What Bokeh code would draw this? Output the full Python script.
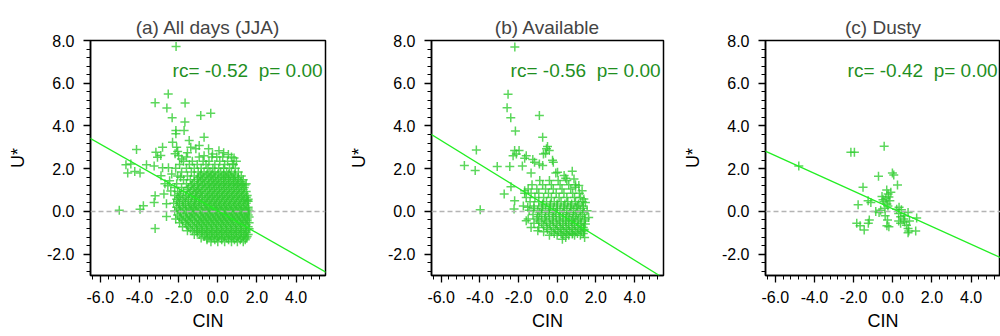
from bokeh.plotting import figure
from bokeh.models import Range1d, FixedTicker, PrintfTickFormatter, Span, Slope, Label
from bokeh.layouts import row
from bokeh.embed import file_html
from bokeh.resources import INLINE
import numpy as np

FONT = "Liberation Sans"

# ---------------- data ----------------
titles = ["(a) All days (JJA)", "(b) Available", "(c) Dusty"]
rc_vals = [-0.52, -0.56, -0.42]
p_vals = [0.00, 0.00, 0.00]
slopes = [-0.52, -0.56, -0.415]
intercepts = [0.03, -0.04, 0.12]

x_ticks = [-6, -4, -2, 0, 2, 4]
y_ticks = [-2, 0, 2, 4, 6, 8]

# panel (a): scattered outliers
a_out_x = [-2.13, -3.2, -2.53, -2.6, -1.67, -2.33, -0.87, -0.36, -1.68, -2.14, -2.14, -1.72,
           -0.7, -1.46, -2.31, -2.82, -2.91, -3.08, -3.16, -4.15, -2.1, -2.05, -2.18, -2.0,
           -1.38, -1.12, -0.95, -0.47, -0.27, -0.7, -4.69, -4.44, -4.6, -4.24, -3.97, -3.64,
           -3.25, -2.82, -2.52, -2.9, -5.03, -3.97, -3.8, -3.25, -3.2, -2.75, -2.62, -3.2,
           -2.62, -2.55, -2.46, 0.06, 0.54, 0.83, 0.75, -1.85, -2.35, -1.55, 0.3, -0.05,
           1.39, 1.5, -2.7, -2.4, -1.9]
a_out_y = [7.72, 5.09, 5.5, 4.84, 5.07, 4.38, 4.49, 4.6, 4.18, 3.79, 3.63, 3.79,
           3.47, 3.32, 3.24, 3.0, 2.62, 2.54, 2.77, 2.9, 3.0, 2.8, 2.7, 2.6,
           3.0, 2.93, 3.08, 2.93, 2.69, 2.61, 2.18, 2.22, 1.8, 1.87, 1.8, 2.18,
           2.12, 2.04, 2.04, 1.67, 0.06, 0.1, 0.26, 0.42, 0.73, 0.82, 0.36, -0.8,
           -0.24, 1.2, 1.44, 2.84, 2.66, 2.5, 2.22, 2.45, 1.75, 2.75, 2.75, 2.55,
           1.24, 0.5, 1.3, 0.95, 1.6]

# panel (a): dense cloud, one list of CIN values per U* row
a_row_y = [2.55, 2.35, 2.2, 2.02, 1.85, 1.66, 1.48, 1.3, 1.12, 0.93, 0.75, 0.57, 0.38,
           0.2, 0.02, -0.17, -0.35, -0.53, -0.72, -0.9, -1.08, -1.25, -1.42,
           1.75, 1.57, 1.39, 1.21, 1.03, 0.84, 0.66, 0.47, 0.29, 0.11, -0.08, -0.26,
           -0.44, -0.62, -0.81, -0.99, -1.17, -1.33]
a_row_x = [
    [-1.6, -0.95, -0.3, 0.25, 0.7],
    [-1.75, -1.3, -0.75, -0.45, 0.1, 0.5, 0.95],
    [-1.95, -1.45, -1.05, -0.6, -0.15, 0.35, 0.8],
    [-2.15, -1.6, -1.2, -0.85, -0.5, -0.25, 0.05, 0.3, 0.6, 0.9],
    [-1.85, -1.35, -1.0, -0.7, -0.4, -0.15, 0.15, 0.45, 0.7, 1.05],
    [-2.05, -1.55, -1.2, -0.9, -0.6, -0.35, -0.1, 0.2, 0.4, 0.65, 0.9, 1.2],
    [-1.75, -1.4, -1.05, -0.8, -0.5, -0.25, 0.0, 0.3, 0.55, 0.8, 1.05, 1.3],
    [-2.1, -1.6, -1.3, -1.0, -0.7, -0.45, -0.2, 0.05, 0.3, 0.55, 0.8, 1.0, 1.25, 1.45],
    [-2.2, -1.85, -1.5, -1.2, -0.95, -0.65, -0.4, -0.15, 0.1, 0.35, 0.6, 0.85, 1.1, 1.35],
    [-2.05, -1.75, -1.4, -1.1, -0.85, -0.55, -0.3, -0.05, 0.2, 0.45, 0.7, 0.95, 1.2, 1.45],
    [-2.2, -1.9, -1.6, -1.3, -1.05, -0.8, -0.5, -0.25, 0.0, 0.25, 0.5, 0.75, 1.0, 1.25, 1.5],
    [-2.1, -1.8, -1.5, -1.2, -0.95, -0.65, -0.4, -0.15, 0.1, 0.35, 0.6, 0.85, 1.1, 1.35, 1.55],
    [-2.25, -1.95, -1.65, -1.35, -1.1, -0.85, -0.55, -0.3, -0.05, 0.2, 0.45, 0.7, 0.95, 1.2, 1.45],
    [-2.1, -1.8, -1.5, -1.25, -1.0, -0.7, -0.45, -0.2, 0.05, 0.3, 0.55, 0.8, 1.05, 1.3, 1.55],
    [-2.2, -1.9, -1.6, -1.35, -1.1, -0.8, -0.55, -0.3, -0.05, 0.2, 0.45, 0.7, 0.95, 1.2, 1.45, 1.6],
    [-2.05, -1.75, -1.45, -1.2, -0.9, -0.65, -0.4, -0.15, 0.1, 0.35, 0.6, 0.85, 1.1, 1.35, 1.55],
    [-2.15, -1.85, -1.55, -1.3, -1.0, -0.75, -0.5, -0.25, 0.0, 0.25, 0.5, 0.75, 1.0, 1.25, 1.5],
    [-1.95, -1.65, -1.4, -1.1, -0.85, -0.6, -0.35, -0.1, 0.15, 0.4, 0.65, 0.9, 1.15, 1.4, 1.6],
    [-1.8, -1.5, -1.2, -0.95, -0.7, -0.45, -0.2, 0.05, 0.3, 0.55, 0.8, 1.05, 1.3, 1.55],
    [-1.55, -1.3, -1.05, -0.8, -0.55, -0.3, -0.05, 0.2, 0.45, 0.7, 0.95, 1.2, 1.45],
    [-1.2, -0.95, -0.65, -0.4, -0.15, 0.1, 0.35, 0.6, 0.85, 1.1, 1.35, 1.55],
    [-0.85, -0.55, -0.3, -0.05, 0.2, 0.45, 0.7, 0.95, 1.2, 1.45],
    [-0.35, 0.0, 0.35, 0.7, 1.0, 1.3],
    [-0.85, -0.55, -0.3, 0.0, 0.3, 0.55, 0.85],
    [-1.0, -0.75, -0.45, -0.2, 0.05, 0.3, 0.55, 0.8, 1.05],
    [-1.2, -0.9, -0.65, -0.35, -0.1, 0.15, 0.4, 0.65, 0.9, 1.15],
    [-1.35, -1.05, -0.8, -0.55, -0.3, -0.05, 0.2, 0.45, 0.7, 0.95, 1.2],
    [-1.55, -1.25, -1.0, -0.75, -0.45, -0.2, 0.05, 0.3, 0.55, 0.8, 1.05, 1.3],
    [-1.95, -1.45, -1.15, -0.9, -0.65, -0.4, -0.15, 0.1, 0.35, 0.6, 0.85, 1.1, 1.35],
    [-2.0, -1.65, -1.35, -1.1, -0.8, -0.55, -0.3, -0.05, 0.2, 0.45, 0.7, 0.95, 1.2, 1.45],
    [-2.05, -1.75, -1.5, -1.2, -0.95, -0.7, -0.45, -0.2, 0.05, 0.3, 0.55, 0.8, 1.05, 1.3, 1.55],
    [-1.95, -1.65, -1.4, -1.15, -0.85, -0.6, -0.35, -0.1, 0.15, 0.4, 0.65, 0.9, 1.15, 1.4],
    [-2.0, -1.75, -1.45, -1.2, -0.95, -0.65, -0.4, -0.15, 0.1, 0.35, 0.6, 0.85, 1.1, 1.35, 1.55],
    [-1.9, -1.6, -1.3, -1.05, -0.75, -0.5, -0.25, 0.0, 0.25, 0.5, 0.75, 1.0, 1.25, 1.5],
    [-1.95, -1.65, -1.4, -1.15, -0.85, -0.6, -0.35, -0.1, 0.15, 0.4, 0.65, 0.9, 1.15, 1.4, 1.6],
    [-1.8, -1.5, -1.2, -0.95, -0.7, -0.45, -0.2, 0.05, 0.3, 0.55, 0.8, 1.05, 1.3, 1.5],
    [-1.6, -1.3, -1.05, -0.8, -0.55, -0.3, -0.05, 0.2, 0.45, 0.7, 0.95, 1.2, 1.45],
    [-1.4, -1.1, -0.85, -0.6, -0.35, -0.1, 0.15, 0.4, 0.65, 0.9, 1.15, 1.4, 1.6],
    [-1.05, -0.8, -0.55, -0.3, -0.05, 0.2, 0.45, 0.7, 0.95, 1.2, 1.45],
    [-0.7, -0.45, -0.2, 0.05, 0.3, 0.55, 0.8, 1.05, 1.3, 1.5],
    [-0.55, -0.15, 0.2, 0.55, 0.85, 1.15, 1.4],
]

# panel (b): scattered points
b_out_x = [-2.19, -2.54, -2.59, -2.4, -0.92, -2.16, -0.75, -0.5, -0.55, -0.41, -4.18, -2.2,
           -1.97, -2.28, -2.11, -0.71, -1.68, -1.26, -0.92, -0.75, -4.8, -4.24, -3.1, -2.45,
           -1.8, -0.6, -1.17, -1.35, -0.24, -0.2, -2.39, -2.74, -2.2, -2.23, -3.98, -1.68,
           -1.6, -0.07, 0.02, 0.78, 0.36, 0.44, 0.87, 1.12, 0.95, 1.29, 1.38, 1.46,
           1.55, 1.63, 1.46, 1.38, 0.78, 0.44, 0.27, -1.0, -1.35, -1.68, -1.52, -1.6, 1.42]
b_out_y = [7.7, 5.48, 4.85, 4.38, 4.49, 3.76, 3.47, 3.04, 2.93, 2.85, 2.88, 2.85,
           2.85, 2.61, 2.69, 2.69, 2.49, 2.43, 2.22, 2.15, 2.15, 1.91, 2.1, 2.1,
           2.12, 2.72, 2.3, 1.8, 2.39, 2.3, 1.16, 0.82, 0.5, 0.11, 0.08, 0.85,
           2.6, 1.8, 1.83, 1.88, 1.68, 1.55, 1.52, 1.21, 1.13, 0.97, 0.58, 0.42,
           0.03, -0.28, -0.59, -0.91, -1.06, -1.22, -1.3, -0.9, -0.75, 0.97, 0.19, -0.44, -1.22]

b_row_y = [1.45, 1.25, 1.05, 0.85, 0.65, 0.45, 0.25, 0.05, -0.15, -0.35, -0.55, -0.75,
           -0.95, -1.12, 0.35, 0.15, -0.05, -0.25, -0.45, -0.65, -0.85, -1.03]
b_row_x = [
    [-0.9, -0.4, 0.05, 0.5],
    [-1.3, -0.75, -0.3, 0.15, 0.6, 0.95],
    [-1.5, -1.05, -0.6, -0.2, 0.25, 0.7],
    [-1.35, -0.95, -0.45, -0.05, 0.35, 0.8, 1.15],
    [-1.6, -1.15, -0.7, -0.3, 0.1, 0.5, 0.9, 1.2],
    [-1.4, -0.95, -0.55, -0.15, 0.2, 0.55, 0.95, 1.3],
    [-1.75, -1.2, -0.75, -0.35, 0.0, 0.35, 0.7, 1.05, 1.35],
    [-1.45, -1.0, -0.6, -0.2, 0.15, 0.5, 0.85, 1.2],
    [-1.25, -0.8, -0.4, -0.05, 0.3, 0.6, 0.95, 1.3],
    [-1.5, -1.05, -0.65, -0.25, 0.1, 0.45, 0.8, 1.1, 1.45],
    [-1.2, -0.8, -0.4, -0.05, 0.3, 0.6, 0.9, 1.25],
    [-0.95, -0.55, -0.2, 0.15, 0.45, 0.75, 1.05, 1.35],
    [-0.7, -0.3, 0.05, 0.35, 0.65, 0.95, 1.25],
    [-0.4, 0.0, 0.3, 0.6, 0.9, 1.2],
    [-0.75, -0.35, 0.0, 0.4, 0.75, 1.1],
    [-1.2, -0.8, -0.4, 0.0, 0.35, 0.7, 1.0, 1.35],
    [-0.9, -0.45, -0.1, 0.3, 0.65, 1.0, 1.4],
    [-1.0, -0.6, -0.2, 0.15, 0.5, 0.85, 1.2],
    [-0.95, -0.55, -0.2, 0.15, 0.45, 0.75, 1.05, 1.4],
    [-0.7, -0.35, 0.0, 0.3, 0.6, 0.9, 1.2],
    [-0.5, -0.1, 0.2, 0.5, 0.8, 1.1, 1.4],
    [-0.15, 0.2, 0.5, 0.8, 1.05, 1.35],
]

# panel (c): all points
c_x = [-4.8, -2.14, -1.96, -0.44, -0.73, -0.02, 0.05, 0.24, -1.52, -0.31, -0.24, -0.55,
       -0.35, -0.2, -0.45, -0.3, -0.15, -0.4, -0.25, -1.77, -1.26, -1.12, -0.87, -0.7,
       -0.62, 0.32, 0.44, 0.3, 0.4, 0.6, 0.78, 1.22, -0.39, -0.27, 0.3, 0.4,
       0.6, 0.7, 0.85, 0.78, 0.82, -1.2, -1.25, -1.84, -1.67, -1.46, -0.3, -0.2,
       0.78, 1.17, 0.2, 0.55, -0.1, -0.5]
c_y = [2.13, 2.77, 2.77, 3.05, 1.64, 1.8, 1.71, 1.24, 1.13, 1.0, 0.82, 0.7,
       0.6, 0.68, 0.45, 0.35, 0.5, 0.15, 0.25, 0.31, 0.5, 0.42, 0.0, -0.05,
       0.05, 0.19, 0.08, -0.1, -0.25, -0.2, -0.05, -0.31, -0.2, -0.4, -0.45, -0.55,
       -0.5, -0.65, -0.45, -0.8, -0.92, -0.4, -0.55, -0.56, -0.67, -0.87, -0.67, -0.72,
       -1.0, -0.92, 0.1, -0.35, 0.9, 0.55]


def expand(row_y, row_x):
    xs, ys = [], []
    for yv, xr in zip(row_y, row_x):
        xs.extend(xr)
        ys.extend([yv] * len(xr))
    return xs, ys


ax_cloud, ay_cloud = expand(a_row_y, a_row_x)
bx_cloud, by_cloud = expand(b_row_y, b_row_x)
panel_x = [a_out_x + ax_cloud, b_out_x + bx_cloud, c_x]
panel_y = [a_out_y + ay_cloud, b_out_y + by_cloud, c_y]

# ---------------- layout ----------------
FRAME_W = 235
borders = [(90, 20), (83, 15), (87, 0)]

figs = []
for i in range(3):
    left, right = borders[i]
    p = figure(width=left + FRAME_W + right, height=336,
               x_range=Range1d(-6.5, 5.5), y_range=Range1d(-3, 8),
               output_backend="svg", toolbar_location=None,
               min_border_left=left, min_border_right=right,
               min_border_top=40, min_border_bottom=61)
    p.background_fill_color = "white"
    p.border_fill_color = "white"
    p.outline_line_color = "black"
    p.outline_line_width = 1.5
    p.xgrid.visible = False
    p.ygrid.visible = False

    p.title.text = titles[i]
    p.title.align = "center"
    p.title.text_font = FONT
    p.title.text_font_size = "19px"
    p.title.text_font_style = "normal"
    p.title.standoff = 6

    p.xaxis.ticker = FixedTicker(ticks=x_ticks,
                                 minor_ticks=list(np.round(np.arange(-6.4, 5.5, 0.4), 2)))
    p.yaxis.ticker = FixedTicker(ticks=y_ticks,
                                 minor_ticks=list(np.round(np.arange(-2.8, 8.01, 0.4), 2)))
    for ax in (p.xaxis[0], p.yaxis[0]):
        ax.formatter = PrintfTickFormatter(format="%.1f")
        ax.axis_line_color = "black"
        ax.axis_line_width = 1.5
        ax.major_tick_line_color = "black"
        ax.major_tick_line_width = 1.3
        ax.minor_tick_line_color = "black"
        ax.minor_tick_line_width = 1.0
        ax.major_tick_out = 7
        ax.major_tick_in = 0
        ax.minor_tick_out = 4
        ax.minor_tick_in = 0
        ax.major_label_text_font = FONT
        ax.major_label_text_font_size = "16px"
        ax.major_label_text_color = "black"
        ax.axis_label_text_font = FONT
        ax.axis_label_text_font_size = "18px"
        ax.axis_label_text_font_style = "normal"
        ax.axis_label_text_color = "black"
    p.xaxis.axis_label = "CIN"
    p.yaxis.axis_label = "U*"
    p.xaxis.major_label_standoff = 8
    p.xaxis.axis_label_standoff = 5
    p.yaxis.major_label_standoff = 9
    p.yaxis.axis_label_standoff = 16

    p.scatter(panel_x[i], panel_y[i], marker="cross", size=9,
              line_color="#32cd32", line_alpha=0.8, line_width=1.5)

    p.add_layout(Span(location=0, dimension="width", line_color="#b4b4b4",
                      line_dash="5 3", line_width=1.5))
    p.add_layout(Slope(gradient=slopes[i], y_intercept=intercepts[i],
                       line_color="#22ee22", line_width=1.3))
    p.add_layout(Label(x=5.35, y=6.6,
                       text="rc= %.2f\u00a0 p= %.2f" % (rc_vals[i], p_vals[i]),
                       text_align="right", text_baseline="middle",
                       text_font=FONT, text_font_size="19px",
                       text_color="#1f8f1f"))
    figs.append(p)

layout = row(*figs)
open("out.html", "w").write(file_html(layout, INLINE))
